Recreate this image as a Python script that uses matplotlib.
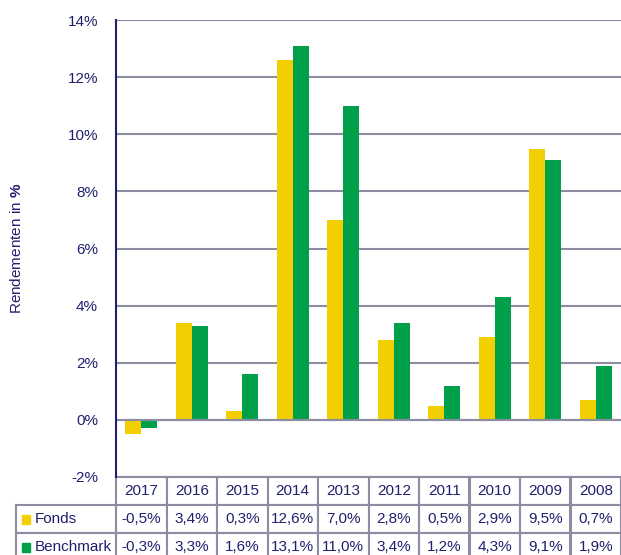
import numpy as np
import matplotlib.pyplot as plt
from matplotlib.patches import Rectangle

plt.rcParams['font.family'] = ['Liberation Sans', 'DejaVu Sans']
plt.rcParams['mathtext.fontset'] = 'custom'
plt.rcParams['mathtext.rm'] = 'Liberation Sans'
plt.rcParams['mathtext.bf'] = 'Liberation Sans:bold'

years = ['2017', '2016', '2015', '2014', '2013', '2012', '2011', '2010', '2009', '2008']
fonds = [-0.5, 3.4, 0.3, 12.6, 7.0, 2.8, 0.5, 2.9, 9.5, 0.7]
benchmark = [-0.3, 3.3, 1.6, 13.1, 11.0, 3.4, 1.2, 4.3, 9.1, 1.9]
series_names = ['Fonds', 'Benchmark']

navy = '#20206E'
yellow = '#F2CF00'
green = '#00A04B'
grid_gray = '#8C8CA2'

fig = plt.figure(figsize=(6.21, 5.55), dpi=100)
ax = fig.add_axes([116/621, 1 - 477/555, 505/621, 457/555])

x = np.arange(len(years))
w = 0.32
ax.bar(x - w/2, fonds, w, color=yellow, zorder=3)
ax.bar(x + w/2, benchmark, w, color=green, zorder=3)
ax.axhline(0, color=grid_gray, linewidth=1.5, zorder=4)

ax.set_xlim(-0.5, len(years) - 0.5)
ax.set_ylim(-2, 14)
ax.set_yticks(np.arange(-2, 15, 2))
ax.set_yticklabels([f'{v}%' for v in range(-2, 15, 2)], color=navy, fontsize=11)
ax.tick_params(axis='y', length=0, pad=13)
ax.set_xticks([])
ax.grid(axis='y', color=grid_gray, linewidth=1.5, zorder=0)
for s in ['top', 'right', 'bottom']:
    ax.spines[s].set_visible(False)
ax.spines['left'].set_color(navy)
ax.spines['left'].set_linewidth(1.5)
ax.spines['left'].set_zorder(5)

ax.set_ylabel(r'Rendementen in $\mathbf{\%}$', color=navy, fontsize=11, labelpad=31)

# data table below the chart
cell_text = [[''] + [f'{v:.1f}%'.replace('.', ',') for v in fonds],
             [''] + [f'{v:.1f}%'.replace('.', ',') for v in benchmark]]
col_w = [100] + [50.5] * len(years)
tbl = ax.table(cellText=cell_text, colLabels=[''] + years,
               colWidths=[c / sum(col_w) for c in col_w],
               cellLoc='center',
               bbox=[-100/505, -84/457, 605/505, 84/457])
tbl.auto_set_font_size(False)
for (r, c), cell in tbl.get_celld().items():
    cell.set_edgecolor(grid_gray)
    cell.set_linewidth(1.5)
    cell.get_text().set_color(navy)
    cell.get_text().set_fontsize(11)
    if r == 0 and c == 0:
        cell.set_visible(False)

# legend squares + row names in the first column
for i, (name, col) in enumerate(zip(series_names, [yellow, green])):
    yc = (-28 * (i + 1.5)) / 457
    ax.add_patch(Rectangle((-94/505, yc - 4.5/457), 8/505, 9/457, transform=ax.transAxes,
                           color=col, clip_on=False, zorder=5))
    ax.text(-81/505, yc, name, transform=ax.transAxes, color=navy, fontsize=11,
            va='center', ha='left')

fig.savefig('out.png', dpi=100)
